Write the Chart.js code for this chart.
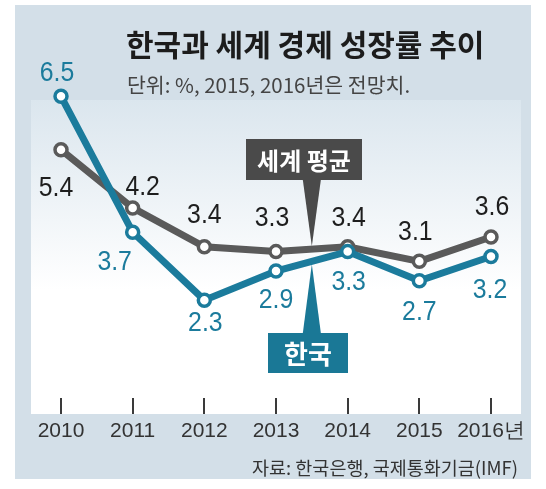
<!DOCTYPE html>
<html>
<head>
<meta charset="utf-8">
<script src="https://cdn.jsdelivr.net/npm/chart.js@4.4.1/dist/chart.umd.min.js"></script>
<style>
  html, body { margin: 0; padding: 0; background: #fff; }
</style>
</head>
<body>
<canvas id="mycanvas" width="546" height="489"></canvas>
<script>
const years = ['2010', '2011', '2012', '2013', '2014', '2015', '2016년'];
const worldAvg = [5.4, 4.2, 3.4, 3.3, 3.4, 3.1, 3.6];
const korea = [6.5, 3.7, 2.3, 2.9, 3.3, 2.7, 3.2];

// where each value label sits relative to its point (dx, dy)
const worldLabelShift = [[-5, 39], [10, -20], [0, -31], [-4, -33], [1, -28], [-4, -29], [1, -29]];
const koreaLabelShift = [[-4, -23], [-18, 30], [1, 23], [0, 30], [1, 31], [0, 32], [-1, 34]];

const GRAY = '#5a5a5a';
const TEAL = '#1b7b9c';
const NUM_FONT = '"Liberation Sans", Arial, sans-serif';
const KR_FONT = '"Noto Sans CJK KR", "Noto Sans", sans-serif';

const backdrop = {
  id: 'backdrop',
  beforeDraw(chart) {
    const ctx = chart.ctx;
    ctx.save();
    ctx.fillStyle = '#fff';
    ctx.fillRect(0, 0, chart.width, chart.height);
    ctx.fillStyle = '#d3dfe8';
    ctx.fillRect(15, 5, 516, 474);
    const g = ctx.createLinearGradient(0, 100, 0, 290);
    g.addColorStop(0, '#dbe6ee');
    g.addColorStop(1, '#ffffff');
    ctx.fillStyle = g;
    ctx.fillRect(31, 100, 490, 314);

    // title + subtitle
    ctx.fillStyle = '#1c1c1c';
    ctx.font = 'bold 30px ' + KR_FONT;
    ctx.textBaseline = 'middle';
    ctx.textAlign = 'left';
    ctx.fillText('한국과 세계 경제 성장률 추이', 126, 45);
    ctx.fillStyle = '#444';
    ctx.font = '20.5px ' + KR_FONT;
    ctx.fillText('단위: %, 2015, 2016년은 전망치.', 127, 85);

    // source
    ctx.fillStyle = '#333';
    ctx.font = '18.5px ' + KR_FONT;
    ctx.textAlign = 'right';
    ctx.fillText('자료: 한국은행, 국제통화기금(IMF)', 518, 468);

    // year tick marks
    const xs = chart.scales.x;
    ctx.strokeStyle = '#3a3a3a';
    ctx.lineWidth = 2;
    years.forEach((y, i) => {
      const x = Math.round(xs.getPixelForValue(i));
      ctx.beginPath();
      ctx.moveTo(x, 398);
      ctx.lineTo(x, 414);
      ctx.stroke();
    });
    ctx.restore();
  }
};

function tag(ctx, text, bg, x0, y0, w, h, tipX, tipY, up, size) {
  ctx.fillStyle = bg;
  ctx.fillRect(x0, y0, w, h);
  ctx.beginPath();
  const baseY = up ? y0 : y0 + h;
  ctx.moveTo(tipX - 9, baseY);
  ctx.lineTo(tipX + 9, baseY);
  ctx.lineTo(tipX, tipY);
  ctx.closePath();
  ctx.fill();
  ctx.fillStyle = '#fff';
  ctx.font = 'bold ' + size + 'px ' + KR_FONT;
  ctx.textAlign = 'center';
  ctx.textBaseline = 'middle';
  ctx.fillText(text, x0 + w / 2, y0 + h / 2 + 1);
}

const labels = {
  id: 'labels',
  afterDatasetsDraw(chart) {
    const ctx = chart.ctx;
    ctx.save();
    ctx.font = '27px ' + NUM_FONT;
    ctx.textAlign = 'center';
    ctx.textBaseline = 'middle';
    const sets = [[0, korea, koreaLabelShift, TEAL], [1, worldAvg, worldLabelShift, '#1e1e1e']];
    sets.forEach(([di, vals, shift, col]) => {
      const meta = chart.getDatasetMeta(di);
      ctx.fillStyle = col;
      meta.data.forEach((pt, i) => {
        ctx.save();
        ctx.translate(pt.x + shift[i][0], pt.y + shift[i][1]);
        ctx.scale(0.92, 1);
        ctx.fillText(vals[i].toFixed(1), 0, 0);
        ctx.restore();
      });
    });

    const xs = chart.scales.x, ys = chart.scales.y;
    const mid = (xs.getPixelForValue(3) + xs.getPixelForValue(4)) / 2;
    const wy = (ys.getPixelForValue(worldAvg[3]) + ys.getPixelForValue(worldAvg[4])) / 2;
    const ky = (ys.getPixelForValue(korea[3]) + ys.getPixelForValue(korea[4])) / 2;
    tag(ctx, '세계 평균', '#4a4a4a', 246, 139, 116, 41, mid, wy - 3, false, 24);
    tag(ctx, '한국', '#1a7896', 268, 333, 80, 40, mid, ky + 3, true, 26);
    ctx.restore();
  }
};

new Chart(document.getElementById('mycanvas'), {
  type: 'line',
  data: {
    labels: years,
    datasets: [
      {
        label: '한국',
        data: korea,
        borderColor: TEAL,
        borderWidth: 7,
        pointRadius: 6,
        pointBorderWidth: 3.5,
        pointBorderColor: TEAL,
        pointBackgroundColor: '#fff',
        tension: 0
      },
      {
        label: '세계 평균',
        data: worldAvg,
        borderColor: GRAY,
        borderWidth: 7,
        pointRadius: 6,
        pointBorderWidth: 3.5,
        pointBorderColor: GRAY,
        pointBackgroundColor: '#fff',
        tension: 0
      }
    ]
  },
  options: {
    responsive: false,
    animation: false,
    layout: { padding: { left: 61, right: 55, top: 72, bottom: 38 } },
    plugins: {
      legend: { display: false },
      tooltip: { enabled: false }
    },
    scales: {
      x: {
        offset: false,
        grid: { display: false, drawTicks: false },
        border: { display: false },
        ticks: {
          color: '#333',
          padding: 7,
          autoSkip: false,
          maxRotation: 0,
          minRotation: 0,
          font: { size: 21, family: NUM_FONT }
        }
      },
      y: {
        display: false,
        min: 0,
        max: 7
      }
    }
  },
  plugins: [backdrop, labels]
});
</script>
</body>
</html>
